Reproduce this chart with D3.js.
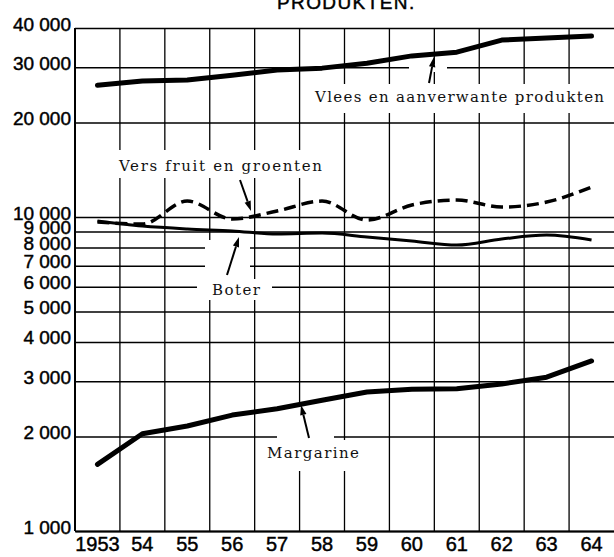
<!DOCTYPE html>
<html>
<head>
<meta charset="utf-8">
<title>Produkten</title>
<script src="https://cdn.jsdelivr.net/npm/d3@7"></script>
<style>
body { margin: 0; background: #fff; }
.tick text, .axisLab { font-family: "Liberation Sans", Arial, sans-serif; fill: #000; stroke: #000; stroke-width: 0.45px; }
.note { font-family: "DejaVu Serif", serif; font-size: 15px; fill: #111; }
</style>
</head>
<body>
<script>
// values (log scale)
var years = ["1953", "54", "55", "56", "57", "58", "59", "60", "61", "62", "63", "64"];
var vlees = [26300, 27100, 27300, 28300, 29400, 29800, 30900, 32600, 33500, 36600, 37200, 37700];
var fruit = [9640, 9500, 11240, 9850, 10450, 11240, 9780, 10920, 11330, 10760, 11160, 12460];
var boter = [9710, 9360, 9160, 9030, 8830, 8890, 8640, 8390, 8140, 8510, 8760, 8450];
var margarine = [1630, 2040, 2160, 2340, 2450, 2610, 2770, 2830, 2840, 2940, 3090, 3480];
var yTicks = [1000, 2000, 3000, 4000, 5000, 6000, 7000, 8000, 9000, 10000, 20000, 30000, 40000];

var w = 614, h = 557;
var pL = 75, pR = 614, pT = 28, pB = 531;

var svg = d3.select("body").append("svg")
    .attr("width", w)
    .attr("height", h);

var x = d3.scaleBand().domain(years).range([pL, pR]);
var y = d3.scaleLog().domain([1000, 40000]).range([pB, pT]);

var nl = d3.formatLocale({decimal: ",", thousands: " ", grouping: [3], currency: ["", ""]});
var fmt = nl.format(",");

// title, cut off at the top like the scan
svg.append("text")
    .attr("x", 277).attr("y", 9)
    .attr("class", "axisLab")
    .style("font-size", "19px")
    .style("letter-spacing", "1.4px")
    .text("PRODUKTEN.");

// horizontal grid + y labels
var yAxis = svg.append("g")
    .attr("transform", "translate(" + pL + ",0)")
    .call(d3.axisLeft(y).tickValues(yTicks).tickFormat(fmt)
          .tickSize(-(pR - pL)).tickPadding(4));
yAxis.select(".domain").remove();
yAxis.selectAll(".tick line").attr("stroke", "#000").attr("stroke-width", 1.5);
yAxis.selectAll(".tick text")
    .attr("dy", "2px")
    .style("font-size", "19px");

// vertical grid on the year boundaries
svg.append("g").selectAll("line")
    .data(years.slice(1))
    .enter().append("line")
    .attr("x1", function(d) { return x(d); })
    .attr("x2", function(d) { return x(d); })
    .attr("y1", pT).attr("y2", pB)
    .attr("stroke", "#000").attr("stroke-width", 1.3);

// left axis
svg.append("line")
    .attr("x1", pL).attr("x2", pL).attr("y1", pT).attr("y2", pB)
    .attr("stroke", "#000").attr("stroke-width", 2);

// x labels
var xAxis = svg.append("g")
    .attr("transform", "translate(0," + pB + ")")
    .call(d3.axisBottom(x).tickSize(0).tickPadding(6));
xAxis.select(".domain").attr("stroke", "#000").attr("stroke-width", 2);
xAxis.selectAll(".tick text")
    .attr("dy", "0.71em")
    .style("font-size", "20px");

// white patches where the labels break the grid
var masks = [
    [310, 84, 304, 29], [409, 64, 38, 8],
    [115, 150, 211, 28],
    [197, 279, 75, 21], [205, 240, 45, 39],
    [262, 440, 100, 31], [277, 406, 57, 34]
];
svg.append("g").selectAll("rect")
    .data(masks)
    .enter().append("rect")
    .attr("x", function(d) { return d[0]; })
    .attr("y", function(d) { return d[1]; })
    .attr("width", function(d) { return d[2]; })
    .attr("height", function(d) { return d[3]; })
    .attr("fill", "#fff");

function mid(i) { return x(years[i]) + x.bandwidth() / 2; }

var straight = d3.line().x(function(d, i) { return mid(i); }).y(function(d) { return y(d); });
var smooth = d3.line().x(function(d, i) { return mid(i); }).y(function(d) { return y(d); })
    .curve(d3.curveMonotoneX);

svg.append("path").datum(vlees).attr("d", straight)
    .attr("fill", "none").attr("stroke", "#000").attr("stroke-width", 5)
    .attr("stroke-linejoin", "round").attr("stroke-linecap", "round");
svg.append("path").datum(margarine).attr("d", straight)
    .attr("fill", "none").attr("stroke", "#000").attr("stroke-width", 5)
    .attr("stroke-linejoin", "round").attr("stroke-linecap", "round");
svg.append("path").datum(boter).attr("d", smooth)
    .attr("fill", "none").attr("stroke", "#000").attr("stroke-width", 3)
    .attr("stroke-linejoin", "round");
svg.append("path").datum(fruit).attr("d", smooth)
    .attr("fill", "none").attr("stroke", "#000").attr("stroke-width", 3.5)
    .attr("stroke-dasharray", "12,6");

// notes and arrows
var notes = [
    {t: "Vlees en aanverwante produkten", x: 315, y: 102, len: 289},
    {t: "Vers fruit en groenten", x: 119, y: 171, len: 203},
    {t: "Boter", x: 212, y: 295, len: 48},
    {t: "Margarine", x: 267, y: 458, len: 92}
];
svg.selectAll(".note")
    .data(notes)
    .enter().append("text")
    .attr("class", "note")
    .attr("x", function(d) { return d.x; })
    .attr("y", function(d) { return d.y; })
    .attr("textLength", function(d) { return d.len; })
    .attr("lengthAdjust", "spacing")
    .text(function(d) { return d.t; });

var arrows = [
    [429, 83, 434, 57],
    [240, 180, 251, 211],
    [227, 275, 239, 237],
    [309, 438, 301, 405]
];
arrows.forEach(function(a) {
    var ang = Math.atan2(a[3] - a[1], a[2] - a[0]);
    var L = 10, W = 3.2;
    var bx = a[2] - L * Math.cos(ang), by = a[3] - L * Math.sin(ang);
    svg.append("line")
        .attr("x1", a[0]).attr("y1", a[1]).attr("x2", bx).attr("y2", by)
        .attr("stroke", "#000").attr("stroke-width", 2);
    svg.append("path")
        .attr("d", "M" + a[2] + "," + a[3] +
                   "L" + (bx + W * Math.sin(ang)) + "," + (by - W * Math.cos(ang)) +
                   "L" + (bx - W * Math.sin(ang)) + "," + (by + W * Math.cos(ang)) + "Z")
        .attr("fill", "#000");
});
</script>
</body>
</html>
